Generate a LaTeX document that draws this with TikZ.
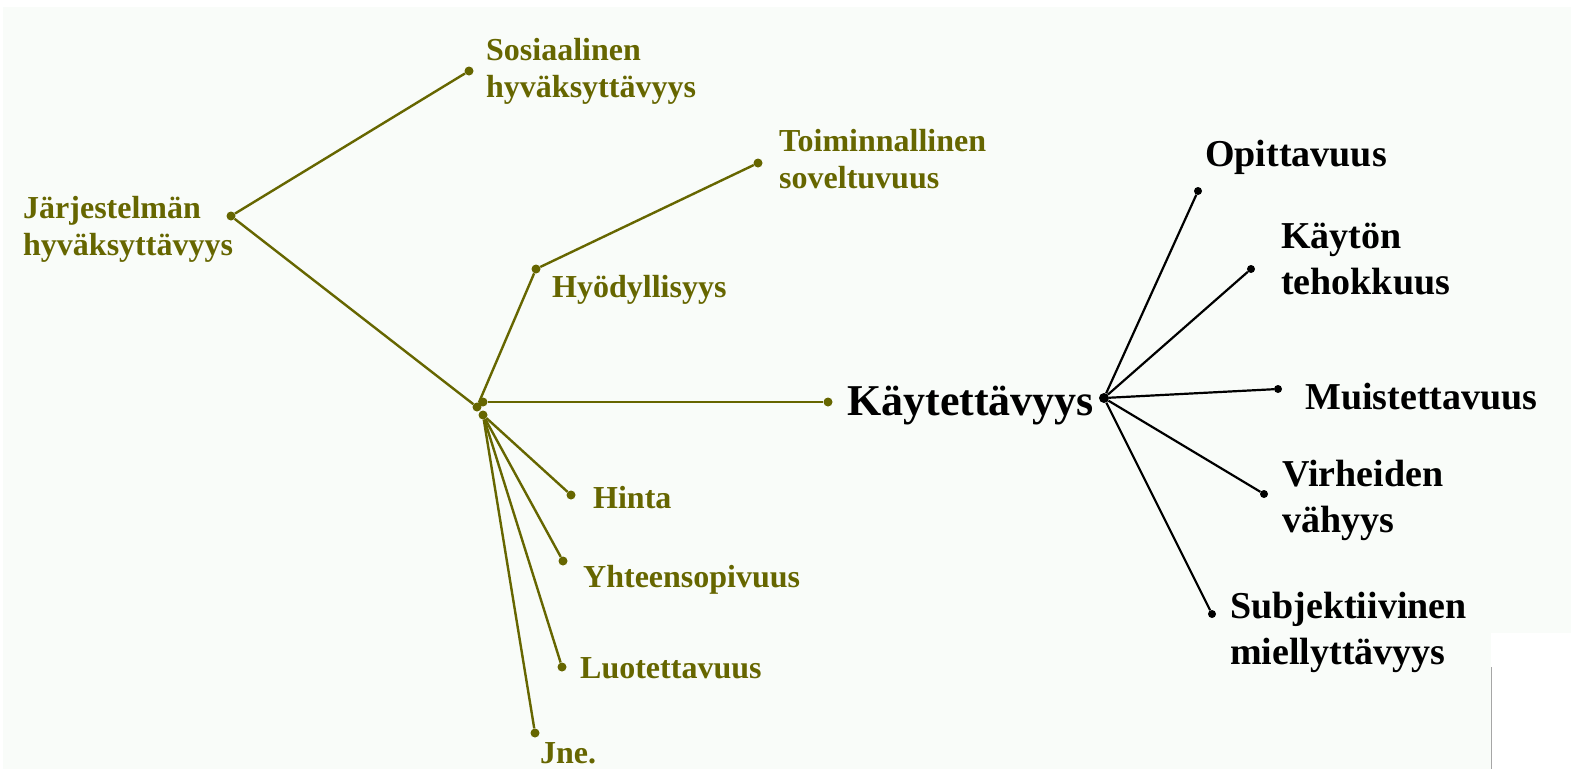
\documentclass[tikz,border=0pt]{standalone}
\usepackage{fontspec}
\setmainfont{Liberation Serif}
\usepackage{tikz}
\usetikzlibrary{positioning}

\definecolor{olive}{RGB}{102,102,0}
\definecolor{paper}{RGB}{249,252,249}

\begin{document}
\begin{tikzpicture}[
  x=1pt, y=-1pt,
  dot/.style={circle,fill,inner sep=0pt,minimum size=9pt},
  gdot/.style={dot,olive},
  bdot/.style={dot,black,minimum size=8pt},
  glink/.style={draw=olive,line width=2.4pt},
  blink/.style={draw=black,line width=2.2pt},
  gtext/.style={anchor=base west,inner sep=0pt,align=left,text=olive,
    font=\fontsize{32}{37}\selectfont\bfseries},
  btext/.style={anchor=base west,inner sep=0pt,align=left,text=black,
    font=\fontsize{38}{46}\selectfont\bfseries}
]
  \useasboundingbox (0,0) rectangle (1571,769);
  \fill[white] (0,0) rectangle (1571,769);
  \fill[paper] (3,7) rectangle (1571,769);
  \fill[white] (1491,633) rectangle (1571,769);
  \draw[gray!70,line width=1pt] (1491,667) -- (1491,769);

  % green branch
  \node[gdot] (jarj) at (231,216) {};
  \node[gdot] (sos) at (469,71) {};
  \node[gdot] (hubA) at (477,407) {};
  \node[gdot] (hubB) at (483,402) {};
  \node[gdot] (hubC) at (483,415) {};
  \node[gdot] (hyod) at (536,269) {};
  \node[gdot] (toim) at (758,163) {};
  \node[gdot] (kg) at (828,402) {};
  \node[gdot] (hinta) at (571,495) {};
  \node[gdot] (yht) at (563,561) {};
  \node[gdot] (luot) at (562,667) {};
  \node[gdot] (jne) at (535,733) {};

  % multi-line texts: base is the last line
  \node[gtext] (tjarj) at (23,255) {Järjestelmän\\hyväksyttävyys};
  \node[gtext] (tsos) at (486,97) {Sosiaalinen\\hyväksyttävyys};
  \node[gtext] (ttoim) at (779,188) {Toiminnallinen\\soveltuvuus};
  \node[gtext] (thyod) at (552,297) {Hyödyllisyys};
  \node[gtext] (thinta) at (593,508) {Hinta};
  \node[gtext] (tyht) at (583,587) {Yhteensopivuus};
  \node[gtext] (tluot) at (580,678) {Luotettavuus};
  \node[gtext] (tjne) at (540,763) {Jne.};

  \draw[glink] (jarj) -- (sos);
  \draw[glink] (jarj) -- (hubA);
  \draw[glink] (hubA) -- (hyod);
  \draw[glink] (hyod) -- (toim);
  \draw[glink] (hubB) -- (kg);
  \draw[glink] (hubC) -- (hinta);
  \draw[glink] (hubC) -- (yht);
  \draw[glink] (hubC) -- (luot);
  \draw[glink] (hubC) -- (jne);

  % black branch
  \node[anchor=base west,inner sep=0pt,font=\fontsize{44}{50}\selectfont\bfseries]
    (tkayt) at (847,415) {Käytettävyys};
  \node[bdot,minimum size=10pt] (kb) at (1104,398) {};
  \node[bdot] (opit) at (1198,191) {};
  \node[bdot] (kaytn) at (1251,269) {};
  \node[bdot] (muist) at (1278,389) {};
  \node[bdot] (virh) at (1264,494) {};
  \node[bdot] (subj) at (1212,614) {};

  \node[btext] (topit) at (1205,166) {Opittavuus};
  \node[btext] (tkaytn) at (1281,294) {Käytön\\tehokkuus};
  \node[btext] (tmuist) at (1305,409) {Muistettavuus};
  \node[btext] (tvirh) at (1282,532) {Virheiden\\vähyys};
  \node[btext] (tsubj) at (1230,664) {Subjektiivinen\\miellyttävyys};

  \draw[blink] (kb) -- (opit);
  \draw[blink] (kb) -- (kaytn);
  \draw[blink] (kb) -- (muist);
  \draw[blink] (kb) -- (virh);
  \draw[blink] (kb) -- (subj);
\end{tikzpicture}
\end{document}
